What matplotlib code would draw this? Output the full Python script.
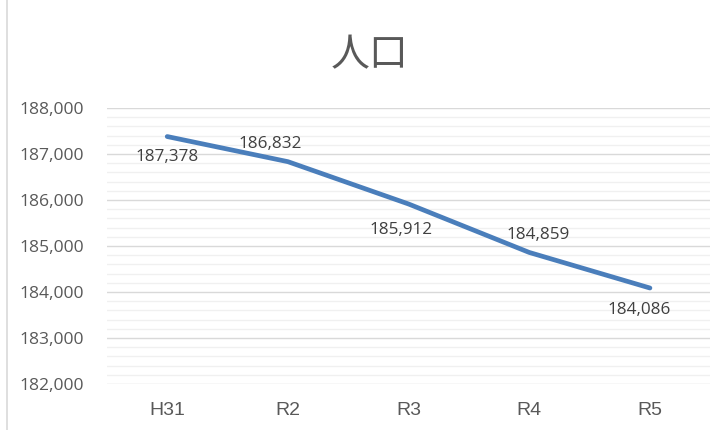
import matplotlib
matplotlib.use("Agg")
import matplotlib.pyplot as plt
from matplotlib.ticker import MultipleLocator, FuncFormatter

plt.rcParams['font.family'] = ['Noto Sans CJK JP', 'DejaVu Sans']

# data
categories = ["H31", "R2", "R3", "R4", "R5"]
population = [187378, 186832, 185912, 184859, 184086]
# label offsets in pixels (dx, dy) relative to each point
label_offsets = [(0, -20), (-18, 18), (-8, -26), (9, 17), (-11, -22)]

TEXT = "#595959"
LINE = "#4a7ebb"

fig = plt.figure(figsize=(7.27, 4.30), dpi=100)
ax = fig.add_axes([0.147, 0.107, 0.830, 0.642])

x = range(len(categories))
ax.plot(x, population, color=LINE, linewidth=3.4, solid_capstyle='round', zorder=3)

for i, (v, off) in enumerate(zip(population, label_offsets)):
    ax.annotate(f"{v:,}", (i, v), xytext=off, textcoords='offset pixels',
                ha='center', va='center', fontsize=12.3, color="#404040",
                family=['Open Sans', 'DejaVu Sans'])

ax.set_xlim(-0.5, len(categories) - 0.5)
ax.set_ylim(182000, 188000)
ax.yaxis.set_major_locator(MultipleLocator(1000))
ax.yaxis.set_minor_locator(MultipleLocator(200))
ax.yaxis.set_major_formatter(FuncFormatter(lambda v, p: f"{int(v):,}"))
ax.set_xticks(list(x))
ax.set_xticklabels(categories, family=['Liberation Sans', 'DejaVu Sans'], fontsize=14)

ax.grid(axis='y', which='major', color='#d9d9d9', linewidth=1.0, zorder=1)
ax.grid(axis='y', which='minor', color='#f0f0f0', linewidth=1.0, zorder=0)
ax.set_axisbelow(True)

for s in ax.spines.values():
    s.set_visible(False)
ax.tick_params(axis='both', which='both', length=0, colors=TEXT)
ax.tick_params(axis='y', pad=16.5, labelsize=12.6)
ax.tick_params(axis='x', pad=13)
for lab in ax.get_yticklabels():
    lab.set_family(['Open Sans', 'DejaVu Sans'])

fig.text(0.509, 0.872, "人口", ha='center', va='center', fontsize=28, color=TEXT)

# chart border on the left
fig.add_artist(plt.Line2D([0.010, 0.010], [0.0, 1.0], color='#d9d9d9', linewidth=1.2))

fig.savefig("out.png", dpi=100)
